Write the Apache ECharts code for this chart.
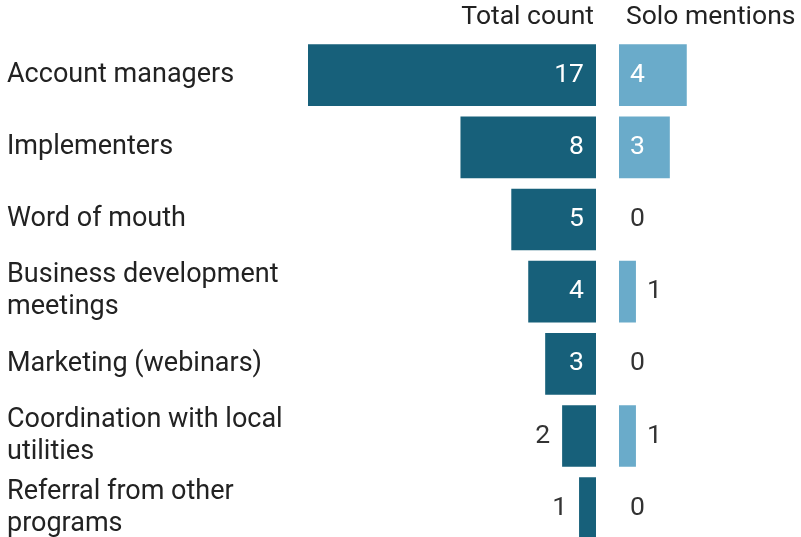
<!DOCTYPE html>
<html><head><meta charset="utf-8">
<script src="https://cdn.jsdelivr.net/npm/echarts@6/dist/echarts.min.js"></script>
<style>html,body{margin:0;padding:0;background:#fff}#c{width:801px;height:537px}</style>
</head><body><div id="c"></div>
<script>
const categories = ["Account managers","Implementers","Word of mouth","Business development\nmeetings","Marketing (webinars)","Coordination with local\nutilities","Referral from other\nprograms"];
const totalCount = [17,8,5,4,3,2,1];
const soloMentions = [4,3,0,1,0,1,0];
const headers = ["Total count","Solo mentions"];

const DARK = '#17607a', LIGHT = '#6aabca', TXT = '#333333';
const FONT = 'Roboto';
const PITCH = 72.17, BAR = 61.7, TOP = 44.3 - (PITCH - BAR) / 2;

const chart = echarts.init(document.getElementById('c'), null, {renderer:'canvas'});
const leftData = totalCount.map(v => ({
  value: v,
  label: v >= 3 ? {position:'insideRight', color:'#ffffff', distance: 12}
                : {position:'left', color: TXT, distance: 12}
}));
const rightData = soloMentions.map(v => ({
  value: v,
  label: v >= 3 ? {position:'insideLeft', color:'#ffffff', distance: 11}
                : {position:'right', color: TXT, distance: 11}
}));
chart.setOption({
  animation:false,
  grid:[
    {left:308, top:TOP, width:288, height:PITCH*7, outerBoundsMode:'none', containLabel:false},
    {left:619, top:TOP, width:288, height:PITCH*7, outerBoundsMode:'none', containLabel:false}
  ],
  xAxis:[
    {gridIndex:0, type:'value', min:0, max:17, inverse:true, show:false},
    {gridIndex:1, type:'value', min:0, max:17, show:false}
  ],
  yAxis:[
    {gridIndex:0, type:'category', data:categories, inverse:true,
     axisLine:{show:false}, axisTick:{show:false}, splitLine:{show:false},
     axisLabel:{align:'left', margin:301, fontFamily:FONT, fontSize:27, color:'#222222', lineHeight:32}},
    {gridIndex:1, type:'category', data:categories, inverse:true, show:false}
  ],
  series:[
    {type:'bar', xAxisIndex:0, yAxisIndex:0, data:leftData, barWidth:BAR,
     itemStyle:{color:DARK},
     label:{show:true, fontFamily:FONT, fontSize:26.5}},
    {type:'bar', xAxisIndex:1, yAxisIndex:1, data:rightData, barWidth:BAR,
     itemStyle:{color:LIGHT},
     label:{show:true, fontFamily:FONT, fontSize:26.5}}
  ],
  graphic:[
    {type:'text', right: 801-594, top: 4, style:{text:headers[0], fontFamily:FONT, fontSize:26.5, fill:'#222222'}},
    {type:'text', left: 626, top: 4, style:{text:headers[1], fontFamily:FONT, fontSize:26.5, fill:'#222222'}}
  ]
});
</script></body></html>
